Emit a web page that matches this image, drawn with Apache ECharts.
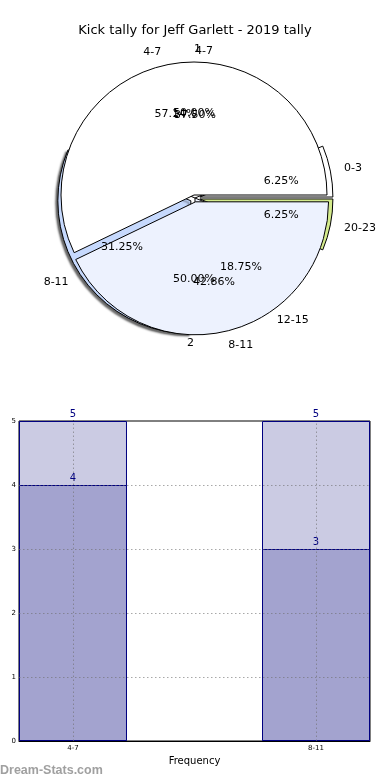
<!DOCTYPE html>
<html>
<head>
<meta charset="utf-8">
<script src="https://cdn.jsdelivr.net/npm/echarts@6/dist/echarts.min.js"></script>
<style>
html,body{margin:0;padding:0;background:#fff;}
#chart{width:390px;height:780px;}
</style>
</head>
<body>
<div id="chart"></div>
<script>
// ---- data ----
const allBands = ['0-3', '4-7', '8-11', '12-15', '20-23'];
const allCounts = [1, 6, 5, 3, 1];
const topBands = ['4-7', '8-11'];
const topCounts = [4, 3];
const roundLabels = ['1', '2'];
const roundCounts = [1, 1];
const barCategories = ['4-7', '8-11'];
const barPositions = [0, 1];
const barTotals = [5, 5];
const barValues = [4, 3];
const yTicks = [0, 1, 2, 3, 4, 5];

// ---- styles ----
const FONT = 'DejaVu Sans';
const R = 133;
const allColors = ['#ffffff', '#ffffff', '#c6d9fd', '#eef3fe', '#d4eb8c'];
const topColors = ['#ffffff', '#edf2fe'];
const roundColors = ['#ffffff', '#ffffff'];
const allExplode = [1, 0, 1, 0, 1];
const topExplode = [0, 1];
const roundExplode = [0, 0];
const allShadow = [0, 0, 1, 0, 0];
const SHADOW = { shadowColor: 'rgba(0,0,0,0.6)', shadowBlur: 2, shadowOffsetX: -2, shadowOffsetY: 2 };

function pct(counts, i) {
  const t = counts.reduce((a, b) => a + b, 0);
  return (counts[i] / t * 100).toFixed(2) + '%';
}

function visualPie(id, center, offset, names, counts, colors, selectedFlags, extraItemStyle, shadowFlags) {
  const base = Object.assign({ borderColor: '#000', borderWidth: 1 }, extraItemStyle || {});
  return {
    type: 'pie',
    id: id,
    center: center,
    radius: R,
    startAngle: 0,
    clockwise: false,
    selectedMode: 'multiple',
    selectedOffset: offset,
    avoidLabelOverlap: false,
    labelLayout: { hideOverlap: false },
    silent: true,
    itemStyle: base,
    label: {
      show: true,
      position: 'outside',
      formatter: '{b}',
      fontFamily: FONT,
      fontSize: 11,
      color: '#000',
      distanceToLabelLine: 0
    },
    labelLine: { show: false, length: 14, length2: 0 },
    emphasis: { disabled: true },
    data: names.map((n, i) => {
      const st = Object.assign({ color: colors[i] }, (shadowFlags && shadowFlags[i]) ? SHADOW : {});
      return {
        name: n,
        value: counts[i],
        selected: !!selectedFlags[i],
        itemStyle: st,
        select: { itemStyle: Object.assign({}, base, st, { opacity: 1 }) }
      };
    })
  };
}

function pctPie(id, center, offset, names, counts, selectedFlags) {
  return {
    type: 'pie',
    id: id,
    center: center,
    radius: R * 1.2,
    startAngle: 0,
    clockwise: false,
    selectedMode: 'multiple',
    selectedOffset: offset,
    avoidLabelOverlap: false,
    labelLayout: { hideOverlap: false },
    silent: true,
    itemStyle: { color: 'rgba(0,0,0,0)', borderWidth: 0 },
    label: {
      show: true,
      position: 'inside',
      formatter: p => pct(counts, p.dataIndex),
      fontFamily: FONT,
      fontSize: 11,
      color: '#000'
    },
    labelLine: { show: false },
    emphasis: { disabled: true },
    data: names.map((n, i) => ({
      name: n, value: counts[i], selected: !!selectedFlags[i],
      select: { itemStyle: { color: 'rgba(0,0,0,0)', borderWidth: 0 } }
    }))
  };
}

const chart = echarts.init(document.getElementById('chart'), null, { renderer: 'canvas' });

const option = {
  animation: false,
  backgroundColor: '#fff',
  textStyle: { fontFamily: FONT },
  title: [
    {
      text: 'Kick tally for Jeff Garlett - 2019 tally',
      left: 'center',
      top: 19,
      textStyle: { fontFamily: FONT, fontSize: 13, fontWeight: 'normal', color: '#000' }
    },
    {
      text: 'Dream-Stats.com',
      left: 0,
      top: 764,
      padding: 0,
      textStyle: { fontFamily: 'Liberation Sans', fontSize: 12.5, fontWeight: 'bold', color: '#a0a0a0' }
    }
  ],
  grid: {
    left: 19, right: 20, top: 421, bottom: 39,
    outerBoundsMode: 'none',
    containLabel: false,
    show: true, borderColor: '#000', borderWidth: 1, backgroundColor: 'transparent'
  },
  xAxis: {
    type: 'value',
    min: -0.2222,
    max: 1.2222,
    name: 'Frequency',
    nameLocation: 'middle',
    nameGap: 15,
    nameTextStyle: { fontFamily: FONT, fontSize: 10, color: '#000' },
    axisLine: { show: true, lineStyle: { color: '#000' } },
    axisTick: { show: true, inside: true, length: 3, customValues: barPositions, lineStyle: { color: '#000' } },
    axisLabel: {
      customValues: barPositions,
      formatter: v => barCategories[Math.round(v)],
      fontFamily: FONT, fontSize: 7, color: '#000', margin: 4
    },
    splitLine: { show: false }
  },
  yAxis: {
    type: 'value',
    min: 0,
    max: 5,
    interval: 1,
    name: 'Stat Intervals',
    nameLocation: 'middle',
    nameGap: 11,
    nameTextStyle: { fontFamily: FONT, fontSize: 10, color: '#000' },
    axisLine: { show: true, lineStyle: { color: '#000' } },
    axisTick: { show: true, inside: true, length: 3, lineStyle: { color: '#000' } },
    axisLabel: { fontFamily: FONT, fontSize: 7, color: '#000', margin: 3 },
    splitLine: { show: false }
  },
  series: [
    visualPie('pieRound', [194, 196], 7, roundLabels, roundCounts, roundColors, roundExplode,
      { borderWidth: 0 }),
    visualPie('pieAll', [195, 198], 5, allBands, allCounts, allColors, allExplode, null, allShadow),
    visualPie('pieTop', [194, 195], 7, topBands, topCounts, topColors, topExplode),
    pctPie('pctAll', [195, 198], 5, allBands, allCounts, allExplode),
    pctPie('pctTop', [194, 195], 7, topBands, topCounts, topExplode),
    pctPie('pctRound', [194, 196], 7, roundLabels, roundCounts, roundExplode),
    {
      type: 'bar',
      name: 'total',
      barWidth: 108,
      barGap: '-100%',
      silent: true,
      itemStyle: { color: '#cbcbe3', borderColor: '#000080', borderWidth: 1 },
      label: { show: true, position: 'top', distance: 2, fontFamily: FONT, fontSize: 10, color: '#000080' },
      emphasis: { disabled: true },
      data: barPositions.map((x, i) => [x, barTotals[i]])
    },
    {
      type: 'bar',
      name: 'value',
      barWidth: 108,
      barGap: '-100%',
      silent: true,
      itemStyle: { color: '#a3a3cf', borderColor: '#000080', borderWidth: 1 },
      label: { show: true, position: 'top', distance: 2, fontFamily: FONT, fontSize: 10, color: '#000080' },
      emphasis: { disabled: true },
      data: barPositions.map((x, i) => [x, barValues[i]]),
      markLine: {
        silent: true,
        symbol: ['none', 'none'],
        label: { show: false },
        lineStyle: { type: [1.5, 2.5], color: 'rgba(110,110,110,0.6)', width: 1 },
        data: yTicks.slice(1, -1).map(v => ({ yAxis: v })).concat(barPositions.map(x => ({ xAxis: x })))
      }
    }
  ]
};
chart.setOption(option);
</script>
</body>
</html>
